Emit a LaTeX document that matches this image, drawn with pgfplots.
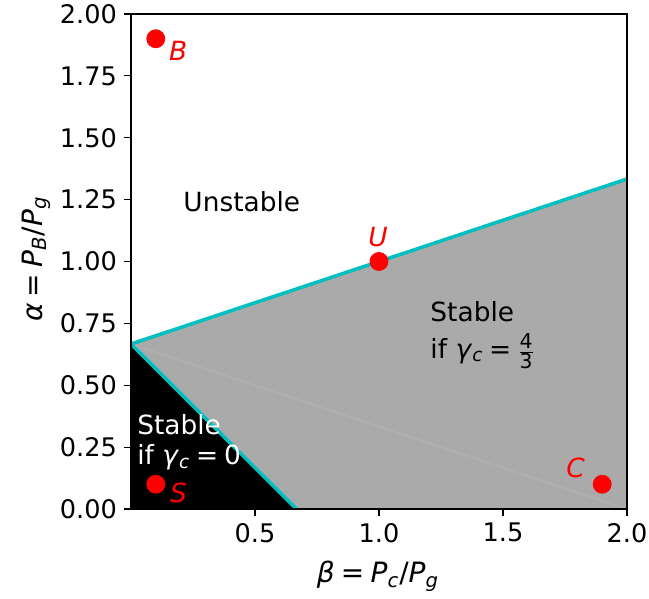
\documentclass[border=0pt]{standalone}
\usepackage{fontspec}
\setmainfont{DejaVu Sans}
\usepackage{amsmath}
\usepackage{pgfplots}
\pgfplotsset{compat=1.18}
\definecolor{cy}{rgb}{0,0.75,0.75}
\definecolor{fillgray}{HTML}{AAAAAA}
\definecolor{seam}{HTML}{B8B8B8}
\newcommand{\txt}{\fontsize{13.2}{15.5}\selectfont}
\newcommand{\lbl}{\fontsize{14}{16}\selectfont}
\newcommand{\eq}{\hspace{0.22em}=\hspace{0.22em}}
\newcommand{\fr}[1]{\text{\fontsize{10.2}{12}\selectfont #1}}
\begin{document}
\begin{tikzpicture}
\begin{axis}[
  at={(0,0)}, anchor=south west,
  scale only axis, width=248pt, height=247.5pt,
  xmin=0, xmax=2, ymin=0, ymax=2,
  clip=false,
  xtick={0.5,1,1.5,2}, ytick={0,0.25,0.5,0.75,1,1.25,1.5,1.75,2},
  xticklabel style={/pgf/number format/.cd, fixed, fixed zerofill, precision=1},
  yticklabel style={/pgf/number format/.cd, fixed, fixed zerofill, precision=2},
  /pgf/number format/assume math mode=true,
  tick label style={font=\fontsize{12.8}{15}\selectfont},
  tick align=outside, major tick length=3.5pt,
  major tick style={black, line width=0.6pt},
  xtick pos=bottom, ytick pos=left,
  axis line style={line width=0.6pt},
  axis on top,
]
\addplot[fill=fillgray, draw=none] coordinates {(0,0.6667) (2,1.3333) (2,0) (0.6667,0)} -- cycle;
\addplot[fill=black, draw=none] coordinates {(0,0) (0,0.6667) (0.6667,0)} -- cycle;
\addplot[seam, line width=0.3pt] coordinates {(0,0.6667) (2,0)};
\addplot[cy, line width=1.75pt] coordinates {(0,0.6667) (2,1.3333)};
\addplot[cy, line width=1.75pt] coordinates {(0,0.6667) (0.6667,0)};
\addplot[only marks, mark=*, mark size=4.5pt, color=red] coordinates {(0.1,1.9) (1,1) (0.1,0.1) (1.9,0.1)};
\node[anchor=base west, inner sep=0, text=red, font=\txt] at (axis cs:0.152,1.811) {\textit{B}};
\node[anchor=base west, inner sep=0, text=red, font=\txt] at (axis cs:0.956,1.059) {\textit{U}};
\node[anchor=base west, inner sep=0, text=red, font=\txt] at (axis cs:0.156,0.027) {\textit{S}};
\node[anchor=base west, inner sep=0, text=red, font=\txt] at (axis cs:1.754,0.129) {\textit{C}};
\node[anchor=base west, inner sep=0, font=\txt] at (axis cs:0.21,1.2) {Unstable};
\node[anchor=base west, inner sep=0, font=\txt] at (axis cs:1.206,0.756) {Stable};
\node[anchor=base west, inner sep=0, font=\txt] at (axis cs:1.206,0.610) {if \textit{γ}\textsubscript{\textit{c}}\eq$\frac{\fr{4}}{\fr{3}}$};
\node[anchor=base west, inner sep=0, font=\txt, text=white] at (axis cs:0.024,0.299) {Stable};
\node[anchor=base west, inner sep=0, font=\txt, text=white] at (axis cs:0.024,0.178) {if \textit{γ}\textsubscript{\textit{c}}\eq0};
\node[anchor=base, inner sep=0, font=\lbl] at (axis description cs:0.498,-0.1495) {\textit{β}\eq\textit{P}\textsubscript{\textit{c}}/\textit{P}\textsubscript{\textit{g}}};
\node[rotate=90, anchor=base, inner sep=0, font=\lbl] at (axis description cs:-0.1794,0.505) {\textit{α}\eq\textit{P}\textsubscript{\textit{B}}/\textit{P}\textsubscript{\textit{g}}};
\end{axis}
\pgfresetboundingbox
\path[use as bounding box] (-65.5pt,-45pt) rectangle (259pt,254.5pt);
\end{tikzpicture}
\end{document}
